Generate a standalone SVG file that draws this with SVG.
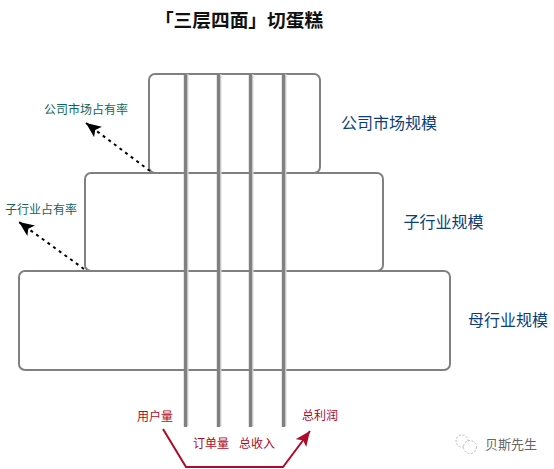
<svg xmlns="http://www.w3.org/2000/svg" width="554" height="469" viewBox="0 0 554 469">
<style>
text{font-family:"Noto Sans CJK SC","Noto Sans",sans-serif}
.box{fill:#fff;stroke:#808080;stroke-width:2}
.v{stroke:#808080;stroke-width:3.4;fill:none;filter:url(#soft)}
.vs{stroke:#d8d8d8;stroke-width:2;fill:none}
.blue{fill:#0b3f7c;font-size:16px}
.teal{fill:#0f6560;font-size:12px}
.red{fill:#b0082a;font-size:12px}
.dash{stroke:#000;stroke-width:2;stroke-dasharray:3 4;fill:none;marker-end:url(#ah)}
</style>
<defs>
<filter id="soft" x="-300%" y="-5%" width="700%" height="110%"><feGaussianBlur stdDeviation="0.4"/></filter>
<marker id="ah" markerUnits="userSpaceOnUse" markerWidth="18" markerHeight="14" refX="15" refY="6.500" orient="auto"><path d="M0 0L15 6.500L0 13L3.500 6.500Z" fill="#000"/></marker>
<marker id="rh" markerUnits="userSpaceOnUse" markerWidth="18" markerHeight="14" refX="15" refY="6.500" orient="auto"><path d="M0 0L15 6.500L0 13L3.500 6.500Z" fill="#ae0a28"/></marker>
</defs>
<rect width="554" height="469" fill="#fff"/>
<text x="239" y="27" text-anchor="middle" font-size="18.700" font-weight="700" fill="#111">「三层四面」切蛋糕</text>
<g id="top-layer"><rect class="box" x="149" y="74" width="171" height="99" rx="6"/><text class="blue" x="389" y="129" text-anchor="middle">公司市场规模</text></g>
<g id="middle-layer"><rect class="box" x="85" y="173" width="298" height="98" rx="6"/><text class="blue" x="443.500" y="228" text-anchor="middle">子行业规模</text></g>
<g id="bottom-layer"><rect class="box" x="19" y="271" width="431" height="99" rx="6"/><text class="blue" x="508" y="326" text-anchor="middle">母行业规模</text></g>
<g id="connectors">
<path class="vs" d="M187.500 74V426M220.500 74V426M252.500 74V426M285.500 74V426"/>
<path class="v" d="M185.500 73V427M218.500 73V427M250.500 73V427M283.500 73V427"/>
<path class="dash" d="M150 171L86 123"/>
<path class="dash" d="M84 269L19 222"/>
<path d="M163 429L186 467H283L310 431" fill="none" stroke="#ae0a28" stroke-width="2" marker-end="url(#rh)"/>
</g>
<g id="labels">
<text class="teal" x="86" y="113.500" text-anchor="middle">公司市场占有率</text>
<text class="teal" x="41" y="213.500" text-anchor="middle">子行业占有率</text>
<text class="red" x="155" y="420.500" text-anchor="middle">用户量</text>
<text class="red" x="211" y="448" text-anchor="middle">订单量</text>
<text class="red" x="257" y="448" text-anchor="middle">总收入</text>
<text class="red" x="320" y="419.500" text-anchor="middle">总利润</text>
</g>
<g id="watermark">
<circle cx="462" cy="441" r="6" fill="none" stroke="#bbb" stroke-width="1" stroke-dasharray="2 1.500"/>
<circle cx="470" cy="447" r="6.500" fill="#fff" stroke="#bbb" stroke-width="1" stroke-dasharray="2 1.500"/>
<text x="511" y="449" text-anchor="middle" font-size="13" fill="#666">贝斯先生</text>
</g>
</svg>
